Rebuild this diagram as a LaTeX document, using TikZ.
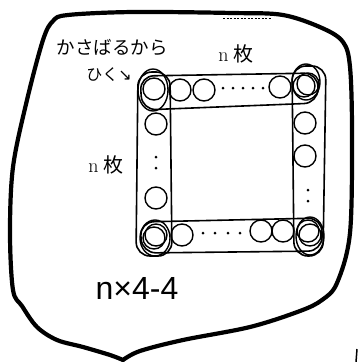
\documentclass[tikz,border=0pt]{standalone}
\usepackage{fontspec}
\newfontfamily\jp{Noto Sans CJK JP}
\newfontfamily\hand{Liberation Sans}
\newfontfamily\sym{DejaVu Sans}
\usetikzlibrary{shapes.geometric}
\begin{document}
\begin{tikzpicture}[x=1pt,y=-1pt,
  coin/.style={circle,draw,minimum size=22pt,inner sep=0pt,line width=1.4pt},
  band/.style={draw,line width=1.6pt,rounded corners=14pt},
  ring/.style={draw,line width=1.4pt},
  dotm/.style={fill,circle,inner sep=0pt,minimum size=3pt},
  outline/.style={line width=4.2pt,line join=round,line cap=round}]
\useasboundingbox (0,0) rectangle (360,362);
% outer blob
\draw[outline] plot[smooth,tension=0.55] coordinates {(123,360) (140,351) (183,340) (250,327) (300,311) (322,300) (337,283) (350,233) (352,133) (350,67) (343,42) (322,28) (283,15) (233,13) (133,12) (68,15) (53,21) (43,40) (27,100) (13,167) (10,233) (13,290) (22,306) (37,327) (57,340) (83,347) (110,355) (123,360)};
\draw[line width=0.6pt,dash pattern=on 2pt off 1.5pt] (223,18) -- (272,18);
\draw[line width=1.5pt] (357,349) -- (356,362);
% bands
\draw[band] (140,76) -- (318,73) -- (318,103) -- (142,110) -- cycle;
\draw[band] (140,222) -- (322,218) -- (322,251) -- (142,253) -- cycle;
\draw[band] (138,72) -- (170,72) -- (172,256) -- (136,256) -- cycle;
\draw[band] (292,66) -- (326,66) -- (323,256) -- (294,256) -- cycle;
% corner rings
\draw[ring] (153,90) ellipse [x radius=15, y radius=21];
\draw[ring] (306,82) ellipse [x radius=14, y radius=18];
\draw[ring] (155,238) ellipse [x radius=15, y radius=18];
\draw[ring] (310,236) ellipse [x radius=14, y radius=19];
% coins
\node[coin] (c11) at (154,89) {};
\node[coin] (t2) at (180,90) {};
\node[coin] (t3) at (204,90) {};
\node[coin] (t4) at (280,87) {};
\node[coin] (c12) at (304,86) {};
\node[coin] (c12b) at (308,84) {};
\node[coin] (l2) at (156,124) {};
\node[coin] (l3) at (156,198) {};
\node[coin] (c21) at (156,235) {};
\node[coin] (c21b) at (154,238) {};
\node[coin] (r2) at (305,123) {};
\node[coin] (r3) at (305,156) {};
\node[coin] (c22) at (308,231) {};
\node[coin] (c22b) at (310,235) {};
\node[coin] (b2) at (182,235) {};
\node[coin] (b3) at (261,231) {};
\node[coin] (b4) at (283,231) {};
% dots
\foreach \x [count=\i] in {223,233,243,253,263} \node[dotm] (td\i) at (\x,88) {};
\foreach \x [count=\i] in {203,215,228,240} \node[dotm] (bd\i) at (\x,233) {};
\node[dotm] (ld1) at (156,157) {};
\node[dotm] (ld2) at (156,168) {};
\node[dotm] (rd1) at (308,190) {};
\node[dotm] (rd2) at (308,201) {};
% texts
\node (ntop) at (236,54) {\fontsize{20}{22}\selectfont n\hspace{5pt}{\jp 枚}};
\node (nleft) at (106,165) {\fontsize{20}{22}\selectfont n\hspace{5pt}{\jp 枚}};
\node (note1) at (112,47) {\fontsize{18.5}{20}\selectfont\jp かさばるから};
\node (note2) at (109,75) {\fontsize{16}{18}\selectfont{\jp ひく}{\sym ↘}};
\node (formula) at (137,288) {\fontsize{32}{34}\selectfont\hand n×4-4};
\end{tikzpicture}
\end{document}
